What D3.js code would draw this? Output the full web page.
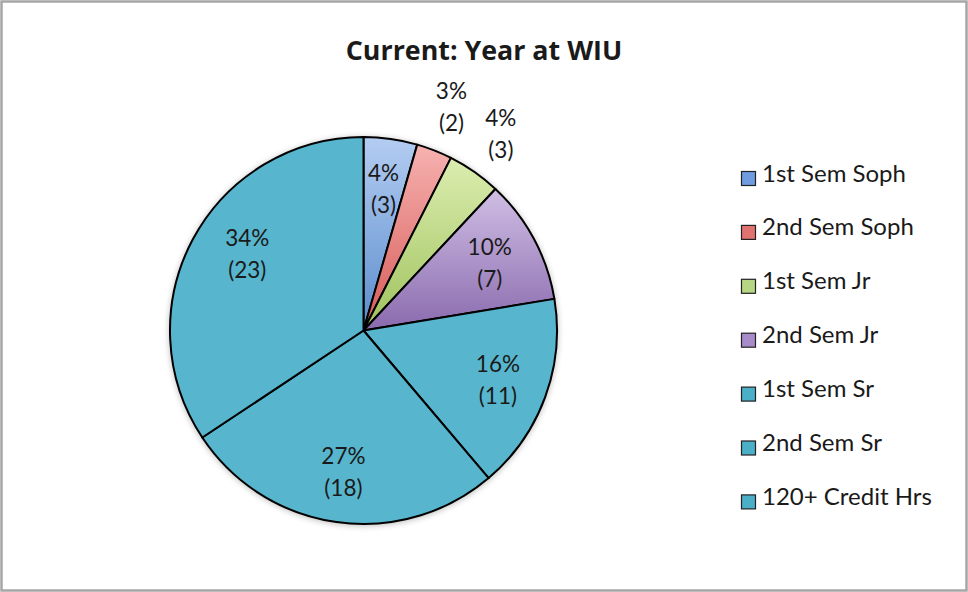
<!DOCTYPE html>
<html>
<head>
<meta charset="utf-8">
<script src="https://cdn.jsdelivr.net/npm/d3@7"></script>
<style>
  html, body { margin: 0; padding: 0; background: #fff; }
  svg { display: block; }
  text { font-family: Lato, "Open Sans", sans-serif; fill: #1a1a1a; }
</style>
</head>
<body>
<svg id="chart" width="968" height="592"></svg>
<script>
// Student counts by current year at WIU
const categories = ["1st Sem Soph", "2nd Sem Soph", "1st Sem Jr", "2nd Sem Jr", "1st Sem Sr", "2nd Sem Sr", "120+ Credit Hrs"];
const counts = [3, 2, 3, 7, 11, 18, 23];
const chartTitle = "Current: Year at WIU";

// slice fills: [light top, dark bottom]
const fills = [
  ["#b4cdf2", "#5a8ccc"],
  ["#f6b2b0", "#d65a57"],
  ["#dcedb0", "#9ec25c"],
  ["#d0bfe4", "#8a6aae"],
  ["#57b6cd", "#57b6cd"],
  ["#57b6cd", "#57b6cd"],
  ["#57b6cd", "#57b6cd"]
];
const legendFills = ["#6f9be0", "#e07270", "#b7d683", "#a88bc9", "#4bafc8", "#4bafc8", "#4bafc8"];

const W = 968, H = 592;
const cx = 363.5, cy = 330.5, R = 193.5;

const svg = d3.select("#chart");
const defs = svg.append("defs");

// outer frame
svg.append("rect")
  .attr("x", 1.5).attr("y", 1.5)
  .attr("width", W - 3).attr("height", H - 3)
  .attr("fill", "#fff").attr("stroke", "#a6a6a6").attr("stroke-width", 2.5);

// title
svg.append("text")
  .attr("x", 484).attr("y", 59.5)
  .attr("text-anchor", "middle")
  .style("font-family", "'Open Sans', Lato, sans-serif")
  .style("font-weight", "bold")
  .style("font-size", "26.8px")
  .text(chartTitle);

fills.forEach((f, i) => {
  const g = defs.append("linearGradient")
    .attr("id", "grad" + i)
    .attr("x1", 0).attr("y1", 0).attr("x2", 0).attr("y2", 1);
  g.append("stop").attr("offset", "0%").attr("stop-color", f[0]);
  g.append("stop").attr("offset", "100%").attr("stop-color", f[1]);
});

const shadow = defs.append("filter").attr("id", "soft")
  .attr("x", "-20%").attr("y", "-20%").attr("width", "140%").attr("height", "140%");
shadow.append("feGaussianBlur").attr("stdDeviation", 3);

const total = d3.sum(counts);
const pie = d3.pie().sort(null).value(d => d)(counts);
const arc = d3.arc().innerRadius(0).outerRadius(R);

const g = svg.append("g").attr("transform", `translate(${cx},${cy})`);

// soft shadow under the pie
g.append("circle")
  .attr("cx", 0).attr("cy", 1).attr("r", R + 1)
  .attr("fill", "#000").attr("opacity", 0.25)
  .attr("filter", "url(#soft)");

g.selectAll("path.slice")
  .data(pie)
  .join("path")
  .attr("class", "slice")
  .attr("d", arc)
  .attr("fill", (d, i) => `url(#grad${i})`)
  .attr("stroke", "#000")
  .attr("stroke-width", 2)
  .attr("stroke-linejoin", "round");

// data labels: percentage and count
const inner = d3.arc().innerRadius(R * 0.74).outerRadius(R * 0.74);
const outer = d3.arc().innerRadius(R * 1.24).outerRadius(R * 1.24);
const fmt = d => Math.round(d.value / total * 100) + "%";

const labels = g.selectAll("g.lbl")
  .data(pie)
  .join("g")
  .attr("class", "lbl")
  .attr("transform", d => {
    const small = d.value / total < 0.04 || (d.index === 2);
    const p = (small ? outer : inner).centroid(d);
    // nudge the largest slice label toward the upper part of its wedge
    if (d.index === 6) { p[0] += 10; p[1] -= 9; }
    return `translate(${p[0]},${p[1]})`;
  });

labels.append("text")
  .attr("text-anchor", "middle")
  .attr("y", -8)
  .style("font-size", "22.5px")
  .text(fmt);
labels.append("text")
  .attr("text-anchor", "middle")
  .attr("y", 24)
  .style("font-size", "22.5px")
  .text(d => "(" + d.value + ")");

// legend
const legend = svg.append("g");
const rows = legend.selectAll("g")
  .data(categories)
  .join("g")
  .attr("transform", (d, i) => `translate(741,${171 + i * 53.9})`);
rows.append("rect")
  .attr("x", 0.5).attr("y", 0.5)
  .attr("width", 14).attr("height", 14)
  .attr("fill", (d, i) => legendFills[i])
  .attr("stroke", "#222").attr("stroke-width", 1.2);
rows.append("text")
  .attr("x", 21).attr("y", 10.5)
  .style("font-size", "24px")
  .text(d => d);
</script>
</body>
</html>
